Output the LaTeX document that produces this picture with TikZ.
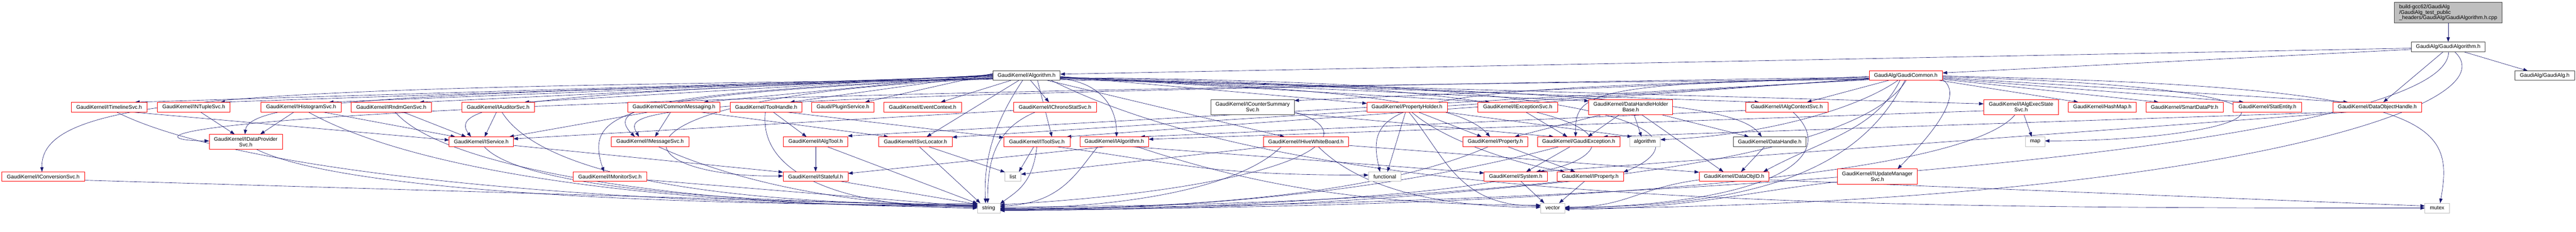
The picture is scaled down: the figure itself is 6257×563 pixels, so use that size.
\documentclass[tikz,border=0pt]{standalone}
\usepackage{fontspec}
\setmainfont{Liberation Sans}
\usetikzlibrary{arrows.meta,backgrounds}
\definecolor{edgec}{HTML}{191970}
\definecolor{dred}{HTML}{FF0000}
\definecolor{dblk}{HTML}{404040}
\definecolor{dgry}{HTML}{BFBFBF}
\newcommand{\dxf}{\fontsize{12.9}{13.7}\selectfont}
\tikzset{
 nb/.style={draw, line width=0.9pt, inner sep=0pt, font=\dxf, align=center, fill=white, text=black},
 rb/.style={nb, draw=dred},
 kb/.style={nb, draw=dblk},
 gb/.style={nb, draw=dgry},
 sz/.style 2 args={minimum width=#1pt, minimum height=#2pt},
 e/.style={draw=edgec, line width=0.8pt, -{Triangle[length=11pt,width=8pt]}},
}
\begin{document}
\begin{tikzpicture}[x=1pt,y=-1pt]
\useasboundingbox (0,0) rectangle (6257,563);
% nodes
\node[kb, fill=dgry, sz={261}{51}, align=left] (top) at (5946.5,30.5) {build-gcc62/GaudiAlg\\/GaudiAlg\_test\_public\\\_headers/GaudiAlg/GaudiAlgorithm.h.cpp};
\node[kb, sz={179}{24}] (galgo) at (5946.5,114) {GaudiAlg/GaudiAlgorithm.h};
\node[kb, sz={144}{23}] (galg) at (6181,183.5) {GaudiAlg/GaudiAlg.h};
\node[rb, sz={178}{23}] (gcom) at (4629,183.5) {GaudiAlg/GaudiCommon.h};
\node[kb, sz={163}{23}] (alg) at (2493.5,183.5) {GaudiKernel/Algorithm.h};
% row 2
\node[rb, sz={184}{24}] (itl) at (265,260) {GaudiKernel/ITimelineSvc.h};
\node[rb, sz={177}{24}] (ntup) at (470.5,260) {GaudiKernel/INTupleSvc.h};
\node[rb, sz={195}{24}] (hist) at (731.5,260) {GaudiKernel/IHistogramSvc.h};
\node[rb, sz={195}{24}] (rndm) at (950.5,260) {GaudiKernel/IRndmGenSvc.h};
\node[rb, sz={176}{24}] (aud) at (1210,260) {GaudiKernel/IAuditorSvc.h};
\node[rb, sz={224}{24}] (cmsg) at (1637,260) {GaudiKernel/CommonMessaging.h};
\node[rb, sz={174}{24}] (tool) at (1861,260) {GaudiKernel/ToolHandle.h};
\node[rb, sz={151}{24}] (plug) at (2047.5,260) {Gaudi/PluginService.h};
\node[rb, sz={188}{24}] (evc) at (2241,260) {GaudiKernel/EventContext.h};
\node[rb, sz={201}{24}] (chrono) at (2562.5,260) {GaudiKernel/IChronoStatSvc.h};
\node[kb, sz={203}{36}] (ics) at (3042.5,260) {GaudiKernel/ICounterSummary\\Svc.h};
\node[rb, sz={195}{24}] (ph) at (3417.5,260) {GaudiKernel/PropertyHolder.h};
\node[rb, sz={193}{24}] (exc) at (3686.5,260) {GaudiKernel/IExceptionSvc.h};
\node[rb, sz={204}{36}] (dhhb) at (3961,260) {GaudiKernel/DataHandleHolder\\Base.h};
\node[rb, sz={200}{24}] (actx) at (4340,260) {GaudiKernel/IAlgContextSvc.h};
\node[rb, sz={182}{36}] (aes) at (4909,260) {GaudiKernel/IAlgExecState\\Svc.h};
\node[rb, sz={165}{24}] (hmap) at (5106.5,260) {GaudiKernel/HashMap.h};
\node[rb, sz={188}{24}] (sdp) at (5306,260) {GaudiKernel/SmartDataPtr.h};
\node[rb, sz={167}{24}] (stat) at (5507.5,260) {GaudiKernel/StatEntity.h};
\node[rb, sz={215}{24}] (doh) at (5774.5,260) {GaudiKernel/DataObjectHandle.h};
% row 3
\node[rb, sz={178}{36}] (dps) at (597,344) {GaudiKernel/IDataProvider\\Svc.h};
\node[rb, sz={156}{24}] (isvc) at (1169,344) {GaudiKernel/IService.h};
\node[rb, sz={188}{24}] (msg) at (1579,344) {GaudiKernel/IMessageSvc.h};
\node[rb, sz={156}{24}] (atool) at (1981,344) {GaudiKernel/IAlgTool.h};
\node[rb, sz={179}{24}] (svcl) at (2223.5,344) {GaudiKernel/ISvcLocator.h};
\node[rb, sz={161}{24}] (tsvc) at (2518.5,344) {GaudiKernel/IToolSvc.h};
\node[rb, sz={167}{24}] (ialg) at (2706.5,344) {GaudiKernel/IAlgorithm.h};
\node[rb, sz={206}{24}] (hwb) at (3172,344) {GaudiKernel/IHiveWhiteBoard.h};
\node[rb, sz={158}{24}] (prop) at (3632,344) {GaudiKernel/Property.h};
\node[rb, sz={201}{24}] (gexc) at (3834.5,344) {GaudiKernel/GaudiException.h};
\node[gb, sz={75}{24}] (algo) at (3995.5,344) {algorithm};
\node[kb, sz={177}{24}] (dh) at (4298.5,344) {GaudiKernel/DataHandle.h};
\node[gb, sz={47}{24}] (map) at (4943.5,344) {map};
% row 4
\node[rb, sz={202}{23}] (conv) at (105,428.5) {GaudiKernel/IConversionSvc.h};
\node[rb, sz={179}{23}] (mon) at (1481.5,428.5) {GaudiKernel/IMonitorSvc.h};
\node[rb, sz={158}{23}] (stf) at (1981,428.5) {GaudiKernel/IStateful.h};
\node[gb, sz={39}{23}] (list) at (2460.5,428.5) {list};
\node[gb, sz={79}{23}] (func) at (3363.5,428.5) {functional};
\node[rb, sz={153}{23}] (sys) at (3681.5,428.5) {GaudiKernel/System.h};
\node[rb, sz={161}{23}] (iprop) at (3862.5,428.5) {GaudiKernel/IProperty.h};
\node[rb, sz={170}{23}] (doid) at (4212,428.5) {GaudiKernel/DataObjID.h};
\node[rb, sz={194}{37}] (upd) at (4560,428.5) {GaudiKernel/IUpdateManager\\Svc.h};
% row 5
\node[gb, sz={55}{24}] (str) at (2401.5,505) {string};
\node[gb, sz={59}{24}] (vec) at (3771.5,505) {vector};
\node[gb, sz={59}{24}] (mtx) at (5919.5,505) {mutex};

\begin{scope}[on background layer]
\fill[white] (0,0) rectangle (6257,563);
% top / galgo
\draw[e] (top.south) -- (galgo.north);
\draw[e] ([shift={(0,3)}]galgo.west) -- ([shift={(0,-3.5)}]alg.east);
\draw[e] ([shift={(0,6)}]galgo.west) -- ([shift={(0,-6.5)}]gcom.east);
\draw[e] ([shift={(38.5,12)}]galgo.center) -- ([shift={(-41,-11.5)}]galg.center);
\draw[e] ([shift={(-12.5,12)}]galgo.center) -- ([shift={(14.5,-12)}]doh.center);
\draw[e] ([shift={(16,12)}]galgo.center) .. controls +(150,140) and +(1500,-10) .. ([shift={(29.5,1)}]vec.center);
\draw[e] ([shift={(1,12)}]galgo.center) .. controls +(0,220) and +(1800,-10) .. ([shift={(27.5,1)}]str.center);
% alg left
\draw[e] ([shift={(0,2)}]alg.west) -- ([shift={(63,-12)}]itl.center);
\draw[e] ([shift={(0,1)}]alg.west) -- ([shift={(64.5,-12)}]ntup.center);
\draw[e] (alg.west) -- ([shift={(67.5,-12)}]hist.center);
\draw[e] ([shift={(0,-1)}]alg.west) -- ([shift={(68.5,-12)}]rndm.center);
\draw[e] ([shift={(0,-2)}]alg.west) -- ([shift={(64,-12)}]aud.center);
\draw[e] ([shift={(0,-3)}]alg.west) -- ([shift={(72,-12)}]cmsg.center);
\draw[e] ([shift={(0,-4)}]alg.west) -- ([shift={(58,-12)}]tool.center);
\draw[e] ([shift={(0,-5)}]alg.west) -- ([shift={(53.5,-12)}]plug.center);
\draw[e] ([shift={(-37.5,11.5)}]alg.center) -- ([shift={(44,-12)}]evc.center);
\draw[e] ([shift={(9.5,11.5)}]alg.center) -- ([shift={(-14.5,-12)}]chrono.center);
\draw[e] ([shift={(-18.5,11.5)}]alg.center) -- ([shift={(27.5,-12)}]svcl.center);
\draw[e] ([shift={(-9.5,11.5)}]alg.center) .. controls +(-64,95) and +(-6,-113) .. ([shift={(-7.5,-12)}]str.center);
\draw[e] ([shift={(26.5,11.5)}]alg.center) -- ([shift={(36.5,-12)}]tsvc.center);
\draw[e] ([shift={(0,9)}]alg.west) .. controls +(-1800,22) and +(-5,-190) .. ([shift={(-3,-11.5)}]conv.center);
\draw[e] ([shift={(0,7)}]alg.west) .. controls +(-1300,35) and +(10,-90) .. ([shift={(-2,-18)}]dps.center);
\draw[e] ([shift={(0,5)}]alg.west) .. controls +(-1100,35) and +(-60,-80) .. ([shift={(-25,-12)}]isvc.center);
\draw[e] ([shift={(0,4)}]alg.west) .. controls +(-850,38) and +(-70,-70) .. ([shift={(-37,-12)}]msg.center);
\draw[e] ([shift={(0,6)}]alg.west) .. controls +(-900,40) and +(-50,-150) .. ([shift={(-14.5,-11.5)}]mon.center);
\draw[e] ([shift={(0,8)}]alg.west) .. controls +(-1000,40) and +(-400,5) .. ([shift={(-79,-1.5)}]stf.center);
% alg right
\draw[e] ([shift={(0,2)}]alg.east) -- ([shift={(-97.5,-9)}]ph.center);
\draw[e] ([shift={(0,3)}]alg.east) -- ([shift={(-67.5,-12)}]exc.center);
\draw[e] ([shift={(0,4)}]alg.east) -- ([shift={(-102,-15)}]dhhb.center);
\draw[e] ([shift={(0,5)}]alg.east) -- ([shift={(-67,-12)}]actx.center);
\draw[e] ([shift={(0,6)}]alg.east) -- ([shift={(-91,-8)}]aes.center);
\draw[e] ([shift={(0,7)}]alg.east) .. controls +(100,10) and +(0,-70) .. ([shift={(5.5,-12)}]ialg.center);
\draw[e] ([shift={(50,11.5)}]alg.center) -- ([shift={(-52,-12)}]hwb.center);
\draw[e] ([shift={(0,8)}]alg.east) .. controls +(700,20) and +(-70,-80) .. ([shift={(-13,-12)}]prop.center);
\draw[e] ([shift={(0,10)}]alg.east) .. controls +(1300,25) and +(-60,-80) .. ([shift={(-19.5,-12)}]dh.center);
\draw[e] ([shift={(0,5)}]alg.east) .. controls +(1600,10) and +(150,-60) .. ([shift={(80.5,-10.5)}]iprop.center);
\draw[e] ([shift={(0,6)}]alg.east) .. controls +(1550,15) and +(200,-30) .. ([shift={(49.5,-11.5)}]sys.center);
\draw[e] ([shift={(60,11.5)}]alg.center) .. controls +(600,300) and +(-1500,0) .. ([shift={(-29.5,0)}]mtx.center);
% gcom
\draw[e] ([shift={(0,2)}]gcom.west) -- ([shift={(101.5,-16)}]ics.center);
\draw[e] ([shift={(-41,11.5)}]gcom.center) -- ([shift={(49,-12)}]actx.center);
\draw[e] ([shift={(81,11.5)}]gcom.center) -- ([shift={(-58.5,-12)}]hmap.center);
\draw[e] ([shift={(0,9)}]gcom.east) -- ([shift={(-63,-12)}]sdp.center);
\draw[e] ([shift={(0,7)}]gcom.east) -- ([shift={(-57.5,-12)}]stat.center);
\draw[e] ([shift={(0,5)}]gcom.east) -- ([shift={(-71.5,-12)}]doh.center);
\draw[e] ([shift={(0,3)}]gcom.east) .. controls +(1100,30) and +(500,0) .. ([shift={(23.5,-2)}]map.center);
\draw[e] ([shift={(0,1)}]gcom.east) .. controls +(1200,25) and +(35,-200) .. ([shift={(7.5,-12)}]mtx.center);
\draw[e] ([shift={(0,10)}]gcom.east) .. controls +(60,40) and +(60,-60) .. ([shift={(49,-18.5)}]upd.center);
\draw[e] ([shift={(0,6)}]gcom.west) .. controls +(-700,10) and +(0,-100) .. ([shift={(-7.5,-12)}]gexc.center);
\draw[e] ([shift={(0,8)}]gcom.west) .. controls +(-1150,20) and +(-40,-170) .. ([shift={(-11.5,-11.5)}]func.center);
\draw[e] ([shift={(0,9)}]gcom.west) .. controls +(-4300,40) and +(-200,0) .. ([shift={(-89,-2)}]dps.center);
\draw[e] ([shift={(0,4)}]gcom.west) .. controls +(-3000,45) and +(-40,-70) .. ([shift={(-27,-12)}]msg.center);
\draw[e] ([shift={(0,10)}]gcom.west) -- ([shift={(78,-14)}]atool.center);
\draw[e] ([shift={(0,9)}]gcom.west) -- ([shift={(89.5,-11)}]svcl.center);
\draw[e] ([shift={(0,7)}]gcom.west) -- ([shift={(72.5,-12)}]tsvc.center);
\draw[e] ([shift={(-14,11.5)}]gcom.center) .. controls +(-60,120) and +(150,-80) .. ([shift={(71,-11.5)}]doid.center);
\draw[e] ([shift={(-19,11.5)}]gcom.center) .. controls +(-100,70) and +(250,-10) .. ([shift={(37.5,-5)}]algo.center);
\draw[e] ([shift={(-2,11.5)}]gcom.center) .. controls +(-100,200) and +(500,0) .. ([shift={(29.5,-2)}]vec.center);
\draw[e] ([shift={(1,11.5)}]gcom.center) .. controls +(-150,250) and +(800,0) .. ([shift={(27.5,-3)}]str.center);
% row 2 sources
\draw[e] ([shift={(16.5,12)}]ntup.center) -- ([shift={(-27,-18)}]dps.center);
\draw[e] ([shift={(-17.5,12)}]hist.center) -- ([shift={(35,-18)}]dps.center);
\draw[e] ([shift={(55,12)}]itl.center) -- ([shift={(-78,-4)}]isvc.center);
\draw[e] ([shift={(18,12)}]itl.center) .. controls +(300,150) and +(-900,0) .. ([shift={(-27.5,-6)}]str.center);
\draw[e] ([shift={(52.5,12)}]hist.center) -- ([shift={(-63,-12)}]isvc.center);
\draw[e] ([shift={(17.5,12)}]hist.center) .. controls +(250,140) and +(-800,0) .. ([shift={(-27.5,-4)}]str.center);
\draw[e] ([shift={(28.5,12)}]rndm.center) -- ([shift={(-37,-12)}]isvc.center);
\draw[e] ([shift={(9.5,12)}]rndm.center) .. controls +(120,140) and +(-700,0) .. ([shift={(-27.5,-2)}]str.center);
\draw[e] ([shift={(-4,12)}]aud.center) -- ([shift={(8,-12)}]isvc.center);
\draw[e] ([shift={(9,12)}]aud.center) .. controls +(100,160) and +(-600,0) .. ([shift={(-27.5,-8)}]str.center);
\draw[e] ([shift={(-61,12)}]cmsg.center) -- ([shift={(68,-12)}]isvc.center);
\draw[e] ([shift={(-8,12)}]cmsg.center) -- ([shift={(12,-12)}]msg.center);
\draw[e] ([shift={(63,12)}]cmsg.center) -- ([shift={(-65.5,-12)}]svcl.center);
\draw[e] ([shift={(17,12)}]tool.center) -- ([shift={(-22,-12)}]atool.center);
\draw[e] ([shift={(48,12)}]tool.center) -- ([shift={(-80.5,-10)}]tsvc.center);
\draw[e] ([shift={(-2,12)}]tool.center) .. controls +(-20,180) and +(-250,0) .. ([shift={(-27.5,0)}]str.center);
\draw[e] ([shift={(-100.5,8)}]chrono.center) -- ([shift={(78,-7)}]isvc.center);
\draw[e] ([shift={(-47.5,12)}]chrono.center) .. controls +(-95,40) and +(0,-110) .. ([shift={(-2.5,-12)}]str.center);
\draw[e] ([shift={(101.5,12)}]ics.center) .. controls +(200,60) and +(700,-40) .. ([shift={(27.5,-8)}]str.center);
\draw[e] ([shift={(101.5,15)}]ics.center) -- ([shift={(-60.5,-12)}]gexc.center);
\draw[e] ([shift={(27.5,12)}]ph.center) -- ([shift={(-33,-12)}]prop.center);
\draw[e] ([shift={(-3.5,12)}]ph.center) -- ([shift={(6.5,-11.5)}]func.center);
\draw[e] ([shift={(91.5,12)}]ph.center) -- ([shift={(-31.5,-12)}]algo.center);
\draw[e] ([shift={(11.5,12)}]ph.center) .. controls +(80,70) and +(-120,-20) .. ([shift={(-61.5,-11.5)}]iprop.center);
\draw[e] ([shift={(4.5,12)}]ph.center) .. controls +(90,110) and +(-200,0) .. ([shift={(-29.5,-5)}]vec.center);
\draw[e] ([shift={(19.5,12)}]exc.center) -- ([shift={(-27.5,-12)}]gexc.center);
\draw[e] ([shift={(-70,18)}]dhhb.center) -- ([shift={(47,-12)}]prop.center);
\draw[e] ([shift={(-27,18)}]dhhb.center) -- ([shift={(22.5,-12)}]gexc.center);
\draw[e] ([shift={(8,18)}]dhhb.center) -- ([shift={(-8.5,-12)}]algo.center);
\draw[e] ([shift={(26,18)}]dhhb.center) -- ([shift={(-26,-11.5)}]doid.center);
\draw[e] ([shift={(73,18)}]dhhb.center) -- ([shift={(-50.5,-12)}]dh.center);
\draw[e] ([shift={(-100,8)}]actx.center) -- ([shift={(63.5,-12)}]ialg.center);
\draw[e] ([shift={(15,12)}]actx.center) .. controls +(120,110) and +(500,-10) .. ([shift={(29.5,0)}]vec.center);
\draw[e] ([shift={(7,18)}]aes.center) -- ([shift={(-8.5,-12)}]map.center);
\draw[e] ([shift={(-91,9)}]aes.center) -- ([shift={(83.5,-6)}]ialg.center);
\draw[e] ([shift={(-14,18)}]aes.center) .. controls +(-150,180) and +(1000,0) .. ([shift={(27.5,3)}]str.center);
\draw[e] (doh.south west) -- ([shift={(59.5,-12)}]gexc.center);
\draw[e] ([shift={(-67.5,12)}]doh.center) -- ([shift={(57.5,-11.5)}]sys.center);
% row 3 sources
\draw[e] ([shift={(78,9)}]isvc.center) -- ([shift={(-79,-10.5)}]stf.center);
\draw[e] ([shift={(7,12)}]isvc.center) .. controls +(100,110) and +(-500,0) .. ([shift={(-27.5,-10)}]str.center);
\draw[e] ([shift={(20,12)}]msg.center) .. controls +(200,90) and +(-300,0) .. ([shift={(-27.5,-5)}]str.center);
\draw[e] (atool.south) -- (stf.north);
\draw[e] ([shift={(28,12)}]atool.center) -- ([shift={(-27.5,-11)}]str.center);
\draw[e] ([shift={(31.5,12)}]svcl.center) -- ([shift={(-19.5,-10.5)}]list.center);
\draw[e] ([shift={(9.5,12)}]svcl.center) -- ([shift={(-20.5,-12)}]str.center);
\draw[e] ([shift={(-7.5,12)}]tsvc.center) -- ([shift={(14.5,-11.5)}]list.center);
\draw[e] ([shift={(0,12)}]tsvc.center) .. controls +(-10,90) and +(40,-30) .. ([shift={(27.5,-10)}]str.center);
\draw[e] ([shift={(46.5,12)}]tsvc.center) .. controls +(300,40) and +(-400,0) .. ([shift={(-39.5,-3.5)}]func.center);
\draw[e] ([shift={(-20,12)}]ialg.center) -- ([shift={(79,-7.5)}]stf.center);
\draw[e] ([shift={(-40,12)}]ialg.center) .. controls +(-50,60) and +(150,-5) .. ([shift={(27.5,-5)}]str.center);
\draw[e] ([shift={(40,12)}]ialg.center) -- ([shift={(-76.5,-8.5)}]sys.center);
\draw[e] ([shift={(55,12)}]ialg.center) .. controls +(300,100) and +(-400,0) .. ([shift={(-29.5,-7)}]vec.center);
\draw[e] ([shift={(103,9)}]hwb.center) -- ([shift={(-85,-10.5)}]doid.center);
\draw[e] ([shift={(-92,12)}]hwb.center) -- ([shift={(19.5,-5.5)}]list.center);
\draw[e] ([shift={(-60,12)}]hwb.center) .. controls +(-100,100) and +(300,0) .. ([shift={(27.5,0)}]str.center);
\draw[e] ([shift={(30,12)}]hwb.center) .. controls +(100,100) and +(-250,0) .. ([shift={(-29.5,-2)}]vec.center);
\draw[e] ([shift={(30,12)}]prop.center) -- ([shift={(-36.5,-11.5)}]iprop.center);
\draw[e] ([shift={(-17,12)}]prop.center) .. controls +(-250,110) and +(500,0) .. ([shift={(27.5,2)}]str.center);
\draw[e] ([shift={(-20.5,12)}]gexc.center) -- ([shift={(25.5,-11.5)}]sys.center);
\draw[e] ([shift={(-47.5,12)}]gexc.center) .. controls +(-300,80) and +(600,0) .. ([shift={(27.5,4)}]str.center);
\draw[e] ([shift={(12.5,11.5)}]sys.center) -- ([shift={(-20.5,-12)}]vec.center);
\draw[e] ([shift={(-49.5,11.5)}]sys.center) .. controls +(-200,40) and +(400,0) .. ([shift={(27.5,6)}]str.center);
\draw[e] ([shift={(-13.5,11.5)}]iprop.center) -- ([shift={(15.5,-12)}]vec.center);
\draw[e] ([shift={(-46.5,11.5)}]iprop.center) .. controls +(-300,30) and +(700,0) .. ([shift={(27.5,5)}]str.center);
\draw[e] ([shift={(-12.5,12)}]dh.center) -- ([shift={(17,-11.5)}]doid.center);
\draw[e] ([shift={(85,8)}]doid.center) -- ([shift={(-29.5,-5)}]mtx.center);
\draw[e] ([shift={(-85,8)}]doid.center) .. controls +(-150,20) and +(150,0) .. ([shift={(29.5,-2)}]vec.center);
\draw[e] ([shift={(-97,13)}]upd.center) .. controls +(-200,20) and +(300,0) .. ([shift={(29.5,3)}]vec.center);
\draw[e] ([shift={(101,9)}]conv.center) -- ([shift={(-27.5,-4)}]str.center);
\draw[e] ([shift={(89.5,8)}]mon.center) -- ([shift={(-27.5,-3)}]str.center);
\draw[e] ([shift={(60,11.5)}]stf.center) -- ([shift={(-27.5,-9)}]str.center);
\draw[e] ([shift={(25,18)}]dps.center) .. controls +(200,100) and +(-800,0) .. ([shift={(-27.5,-7)}]str.center);
\end{scope}
\end{tikzpicture}
\end{document}
